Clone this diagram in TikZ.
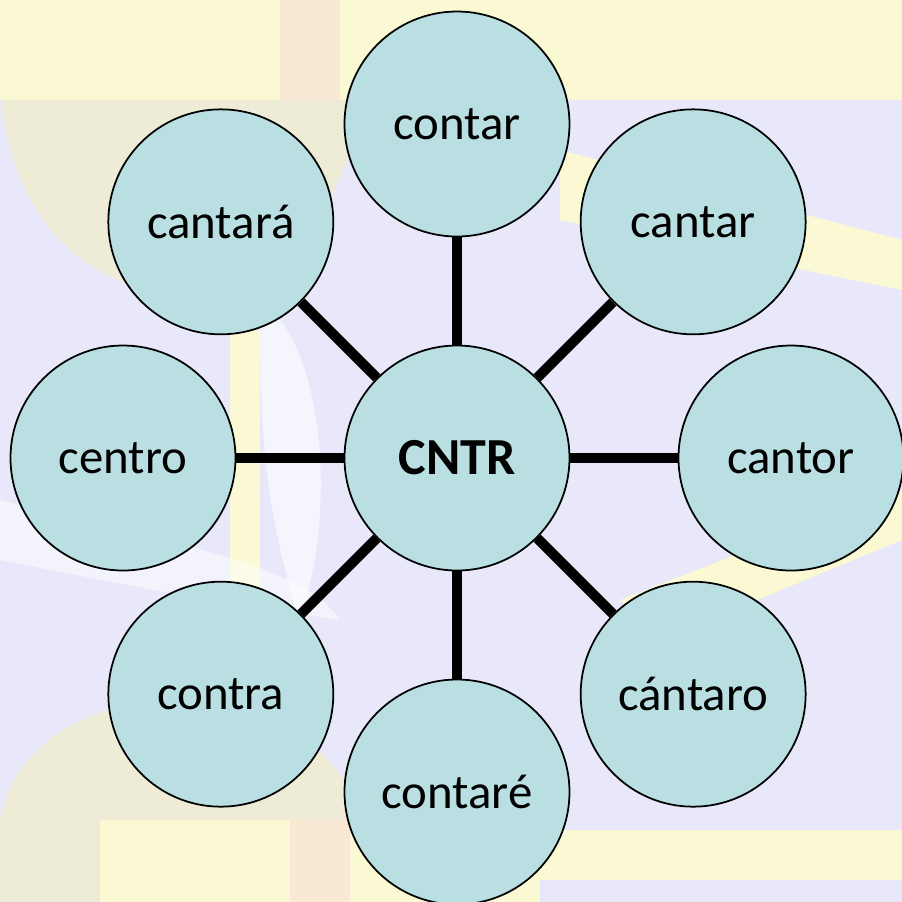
\documentclass[tikz,border=0pt]{standalone}
\usepackage{fontspec}
\setmainfont{Carlito}
\usetikzlibrary{trees}
\definecolor{bubble}{RGB}{185,223,226}
\definecolor{backdrop}{RGB}{232,232,250}
\definecolor{faded}{RGB}{250,249,212}
\definecolor{fadedtan}{RGB}{238,235,214}
\definecolor{fadedred}{RGB}{248,232,212}

\begin{document}
\begin{tikzpicture}[level distance=3.34cm,
  word/.style={circle, draw, line width=0.5pt, fill=bubble, minimum size=2.25cm,
    inner sep=0pt, font=\fontsize{13.9}{16}\selectfont},
  every child node/.style={word},
  edge from parent/.style={draw, line width=2.9pt}]
  % faded picture behind the diagram
  \fill[backdrop] (0,0) rectangle (9.02,-9.02);
  \fill[fadedtan] (0,-0.9) .. controls (0.2,-3.6) and (3.4,-3.6) .. (3.6,-0.9) -- cycle;
  \fill[fadedtan] (0,-9.02) -- (0,-8.2) .. controls (0.3,-6.6) and (3.2,-6.6) .. (3.6,-8.2) -- (3.6,-9.02) -- cycle;
  \fill[faded] (0,0) rectangle (9.02,-1.0);
  \fill[fadedred] (2.8,0) rectangle (3.4,-1.0);
  \fill[faded] (5.6,-1.5) -- (9.02,-2.4) -- (9.02,-2.9) -- (5.6,-2.2) -- cycle;
  \fill[faded] (6.2,-6.0) -- (9.02,-4.9) -- (9.02,-5.4) -- (6.6,-6.4) -- cycle;
  \fill[faded] (5.4,-8.3) rectangle (9.02,-8.8);
  \fill[faded] (2.3,-3.3) rectangle (2.6,-6.4);
  \fill[faded] (1.0,-8.2) rectangle (5.4,-9.02);
  \fill[fadedred] (2.9,-8.2) rectangle (3.5,-9.02);
  \fill[white, opacity=0.6] (2.6,-3.0) .. controls (3.2,-3.4) and (3.4,-5.0) .. (3.0,-6.2)
    .. controls (2.6,-5.0) and (2.6,-4.0) .. cycle;
  \fill[white, opacity=0.5] (0,-5.0) .. controls (1.5,-5.4) and (3.0,-5.6) .. (3.4,-6.2)
    .. controls (2.0,-6.0) and (1.0,-5.8) .. (0,-5.6) -- cycle;
  \useasboundingbox (0,0) rectangle (9.02,-9.02);
  % the word wheel
  \node[word, font=\fontsize{14.8}{17}\selectfont\bfseries] (cntr) at (4.57,-4.58) {CNTR}
    child[grow=90]   {node (contar) {contar}}
    child[grow=45]   {node (cantar) {cantar}}
    child[grow=0]    {node (cantor) {cantor}}
    child[grow=-45]  {node (cantaro) {cántaro}}
    child[grow=-90]  {node (contare) {contaré}}
    child[grow=-135] {node (contra) {contra}}
    child[grow=180]  {node (centro) {centro}}
    child[grow=135]  {node (cantara) {cantará}};
\end{tikzpicture}
\end{document}
